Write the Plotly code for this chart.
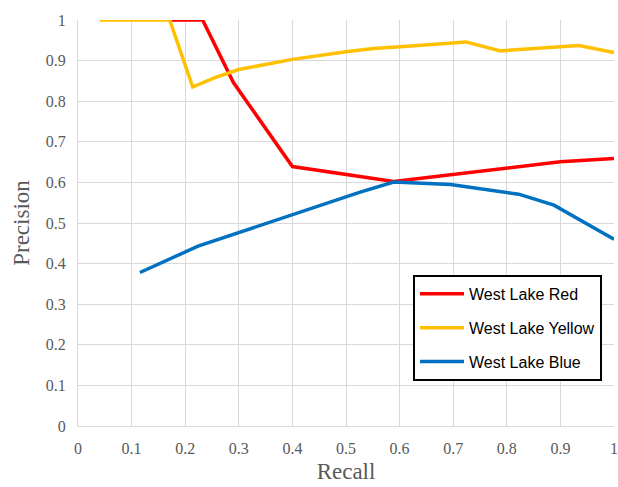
import plotly.graph_objects as go

red_recall = [0.171, 0.2325, 0.29, 0.40, 0.589, 0.90, 1.0]
red_precision = [1.0, 1.0, 0.846, 0.639, 0.602, 0.651, 0.659]

yellow_recall = [0.0405, 0.171, 0.214, 0.2555, 0.30, 0.40, 0.50, 0.551, 0.601, 0.724, 0.788, 0.9346, 1.0]
yellow_precision = [1.0, 1.0, 0.835, 0.858, 0.878, 0.903, 0.922, 0.930, 0.934, 0.946, 0.924, 0.937, 0.920]

blue_recall = [0.1155, 0.224, 0.5265, 0.589, 0.695, 0.822, 0.888, 1.0]
blue_precision = [0.378, 0.443, 0.576, 0.601, 0.595, 0.571, 0.544, 0.460]

tick_vals = [0, 0.1, 0.2, 0.3, 0.4, 0.5, 0.6, 0.7, 0.8, 0.9, 1]
tick_text = ["0", "0.1", "0.2", "0.3", "0.4", "0.5", "0.6", "0.7", "0.8", "0.9", "1"]

fig = go.Figure()
series = [
    ("West Lake Red", red_recall, red_precision, "#ff0000"),
    ("West Lake Yellow", yellow_recall, yellow_precision, "#ffc000"),
    ("West Lake Blue", blue_recall, blue_precision, "#0070c0"),
]
for name, xs, ys, col in series:
    fig.add_trace(go.Scatter(x=xs, y=ys, mode="lines", name=name, legendgroup=name,
                             line=dict(color=col, width=3.5), cliponaxis=False))

axis_common = dict(range=[0, 1], tickvals=tick_vals, ticktext=tick_text,
                   showgrid=True, gridcolor="#d9d9d9", gridwidth=1,
                   showline=True, linecolor="#d9d9d9", linewidth=1,
                   zeroline=False, ticks="", automargin=False,
                   ticklabelstandoff=8,
                   tickfont=dict(family="Liberation Serif", size=16, color="#595959"),
                   title_font=dict(family="Liberation Serif", size=23, color="#595959"))

fig.update_layout(
    width=618, height=487,
    margin=dict(l=78, r=4, t=20, b=61),
    plot_bgcolor="white", paper_bgcolor="white",
    xaxis=dict(axis_common, title=dict(text="Recall", standoff=6)),
    yaxis=dict(axis_common, title=dict(text="Precision", standoff=9)),
    legend=dict(x=0.625, y=0.372, xanchor="left", yanchor="top",
                bordercolor="black", borderwidth=2, bgcolor="white",
                tracegroupgap=10, itemwidth=44,
                font=dict(family="Liberation Sans", size=16, color="black")),
    showlegend=True,
)

fig.write_html("out.html", config={"displayModeBar": False},
               post_script="document.body.style.margin='0';")
